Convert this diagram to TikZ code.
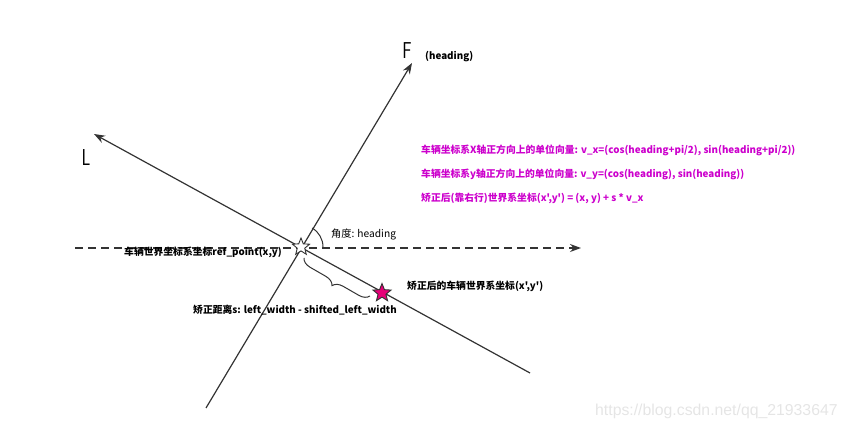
\documentclass[tikz,border=0pt]{standalone}
\usepackage{fontspec}
\newfontfamily\cjk{Noto Sans CJK SC}
\newfontfamily\wm{Liberation Sans}
\usetikzlibrary{shapes.geometric,arrows.meta,decorations.pathreplacing,calc}
\definecolor{lin}{RGB}{51,51,51}
\definecolor{mag}{RGB}{204,0,204}
\definecolor{pinkstar}{RGB}{230,0,120}
\tikzset{
  axis/.style={draw=lin,line width=1.2pt,-{Stealth[length=11pt,width=8pt]}},
  lbl/.style={anchor=west,inner sep=0pt,font=\cjk\bfseries\fontsize{9.8}{12}\selectfont,text=black},
  mlbl/.style={lbl,text=mag},
  handletter/.style={inner sep=0pt,font=\sffamily\fontsize{23}{25}\selectfont,text=black,xscale=0.75}
}
\begin{document}
\begin{tikzpicture}[x=1pt,y=-1pt]
\useasboundingbox (0,0) rectangle (847,430);
% coordinates
\coordinate (O) at (301,247);
\coordinate (Fbot) at (206,408);
\coordinate (Ftip) at (412,63);
\coordinate (Lbot) at (530,373);
\coordinate (Ltip) at (94,134);
\coordinate (Dl) at (75,248);
\coordinate (Dr) at (581,248);
\coordinate (A0) at (323,247);
% axes
\draw[axis] (Fbot) -- (Ftip);
\draw[axis] (Lbot) -- (Ltip);
\draw[axis,dash pattern=on 8pt off 5pt] (Dl) -- (Dr);
% angle arc
\draw[lin,line width=1pt] (A0) arc[start angle=0,end angle=-59.5,radius=22];
% brace
\coordinate (Ba) at (304,258);
\coordinate (Bb) at (370,296);
\draw[lin,line width=1pt,decorate,decoration={brace,mirror,amplitude=10pt}] (Ba) -- (Bb);
% stars
\node[star,star points=5,star point ratio=2.3,minimum size=18pt,inner sep=0pt,draw=lin,line width=0.9pt,fill=white] (o) at (O) {};
\node[star,star points=5,star point ratio=2.3,minimum size=19pt,inner sep=0pt,draw=lin,line width=0.9pt,fill=pinkstar] (p) at (382,293) {};
% letters
\node[handletter] (F) at (407,51) {F};
\node[handletter] (L) at (86,158) {L};
% labels
\node[lbl] (hd) at (425,57) {(heading)};
\node[mlbl] (t1) at (421,150) {车辆坐标系X轴正方向上的单位向量: v\_x=(cos(heading+pi/2), sin(heading+pi/2))};
\node[mlbl] (t2) at (421,174) {车辆坐标系y轴正方向上的单位向量: v\_y=(cos(heading), sin(heading))};
\node[mlbl] (t3) at (421,198) {矫正后(靠右行)世界系坐标(x',y') = (x, y) + s * v\_x};
\node[lbl,font=\cjk\fontsize{10.2}{12}\selectfont] (ang) at (331,234) {角度: heading};
\node[lbl] (ref) at (124,252) {车辆世界坐标系坐标ref\_point(x,y)};
\node[lbl] (cor) at (407,286) {矫正后的车辆世界系坐标(x',y')};
\node[lbl] (dist) at (193,310) {矫正距离s: left\_width - shifted\_left\_width};
\node[anchor=west,inner sep=0pt,font=\wm\fontsize{15.8}{18}\selectfont,text=black!10] (wmk) at (595,411) {https://blog.csdn.net/qq\_21933647};
\end{tikzpicture}
\end{document}
